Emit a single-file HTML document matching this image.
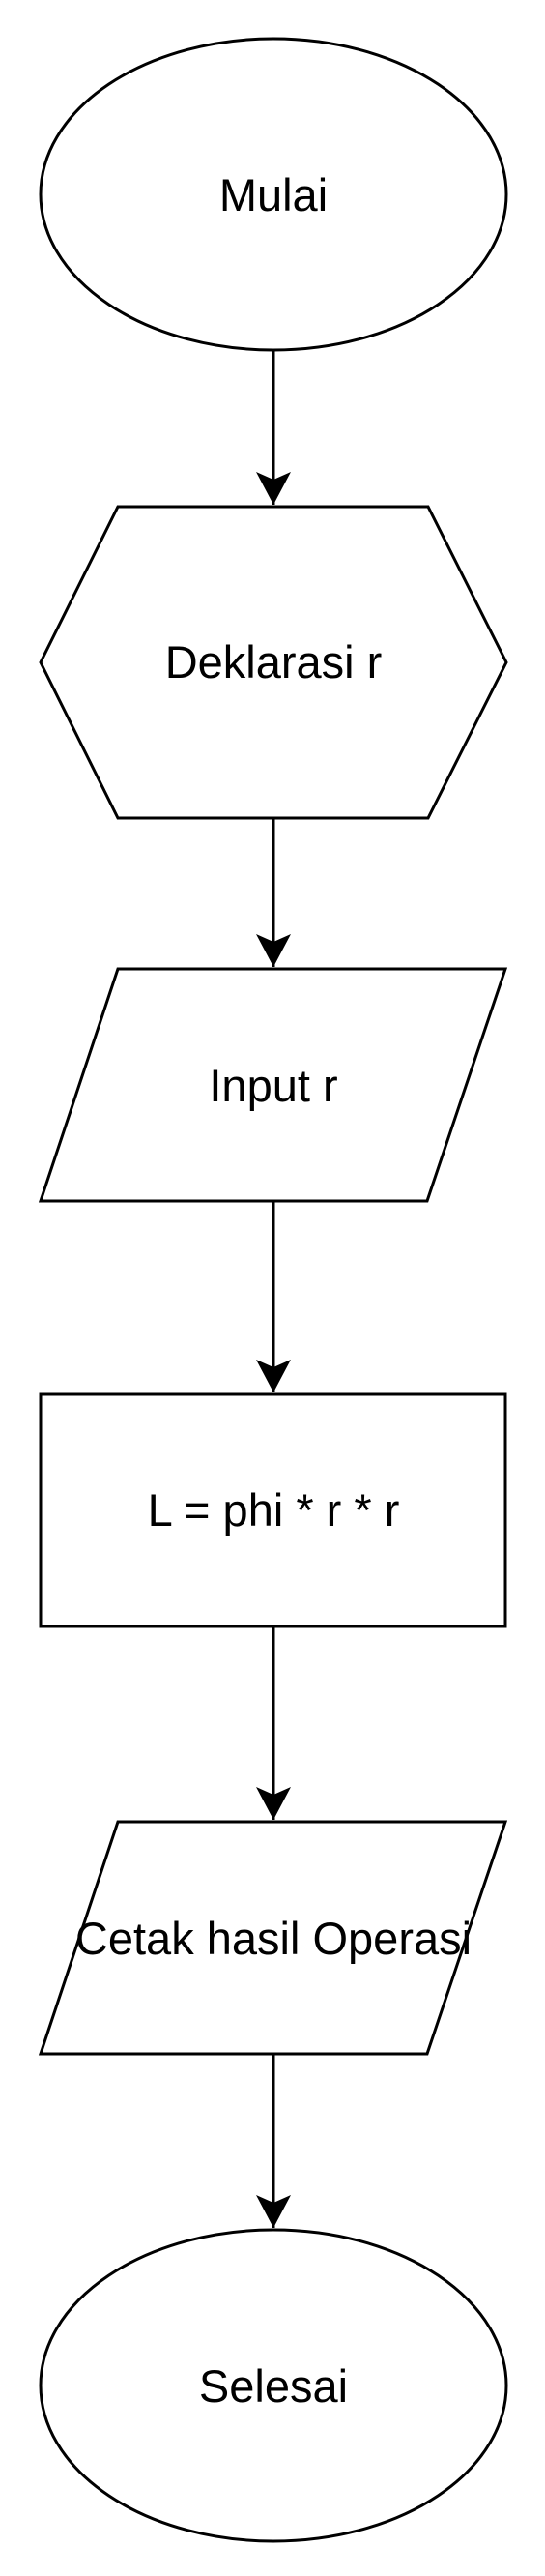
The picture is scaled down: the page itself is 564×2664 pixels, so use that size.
<!DOCTYPE html>
<html><head><meta charset="utf-8"><style>html,body{margin:0;padding:0;background:#fff}svg{display:block}</style></head>
<body>
<svg width="564" height="2664" viewBox="0 0 564 2664" xmlns="http://www.w3.org/2000/svg">
<defs>
<marker id="ah" markerUnits="userSpaceOnUse" markerWidth="40" markerHeight="40" refX="34" refY="18" orient="auto">
<path d="M0,0 L34,18 L0,36 L8,18 Z" fill="#000"/>
</marker>
</defs>
<g fill="#fff" stroke="#000" stroke-width="3">
<ellipse cx="283" cy="201" rx="241" ry="161"/>
<polygon points="122,524 443,524 524,685 443,846 122,846 42,685"/>
<polygon points="122,1002 523,1002 442,1242 42,1242"/>
<rect x="42" y="1442" width="481" height="240"/>
<polygon points="122,1884 523,1884 442,2124 42,2124"/>
<ellipse cx="283" cy="2467" rx="241" ry="161"/>
</g>
<g stroke="#000" stroke-width="3" fill="none">
<line x1="283" y1="362" x2="283" y2="522" marker-end="url(#ah)"/>
<line x1="283" y1="846" x2="283" y2="1000" marker-end="url(#ah)"/>
<line x1="283" y1="1242" x2="283" y2="1440" marker-end="url(#ah)"/>
<line x1="283" y1="1682" x2="283" y2="1882" marker-end="url(#ah)"/>
<line x1="283" y1="2124" x2="283" y2="2304" marker-end="url(#ah)"/>
</g>
<g font-family="Liberation Sans, Arial, sans-serif" font-size="47" text-anchor="middle" fill="#000">
<text x="283" y="218">Mulai</text>
<text x="283" y="701">Deklarasi r</text>
<text x="283" y="1139">Input r</text>
<text x="283" y="1578">L = phi * r * r</text>
<text x="283" y="2021">Cetak hasil Operasi</text>
<text x="283" y="2484">Selesai</text>
</g>
</svg>
</body></html>
